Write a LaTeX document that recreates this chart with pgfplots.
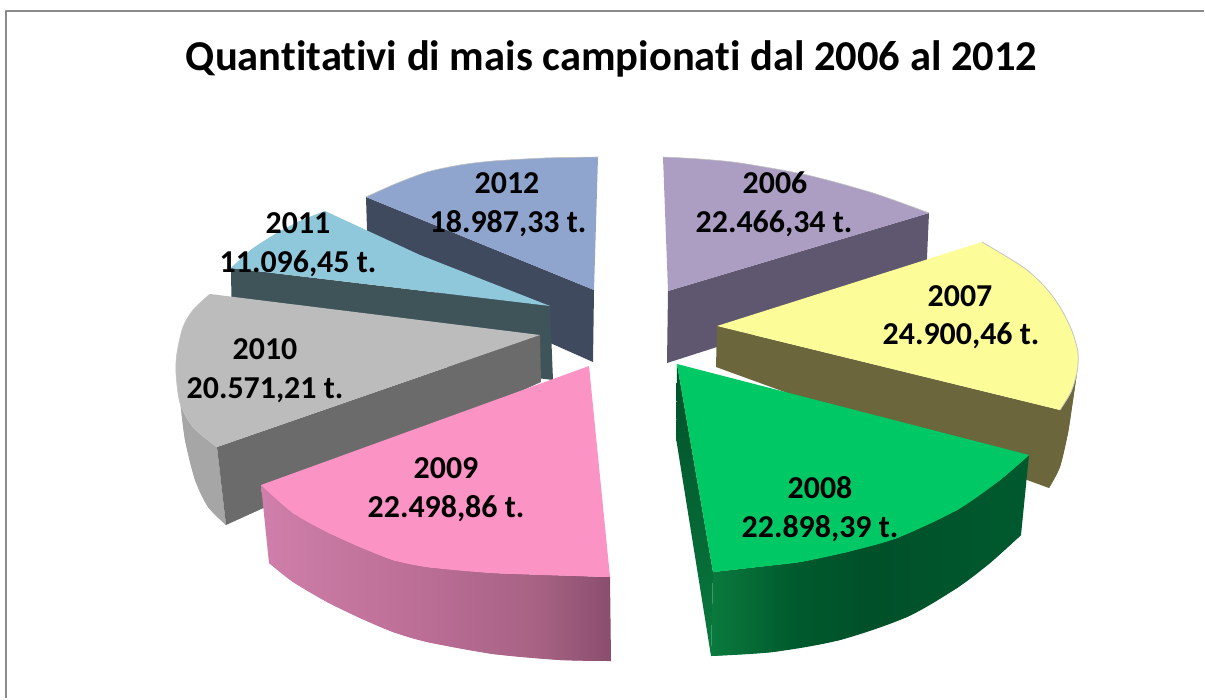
\documentclass[border=0pt]{standalone}
\usepackage{pgfplots}
\pgfplotsset{compat=1.18}
\usepackage{fontspec}
\setmainfont[Ligatures=NoCommon]{Carlito}
\definecolor{t06}{HTML}{AB9EC2}\definecolor{s06}{HTML}{5F5670}
\definecolor{t07}{HTML}{FCFC98}\definecolor{s07}{HTML}{6B663C}
\definecolor{t08}{HTML}{00C864}
\definecolor{t09}{HTML}{FB93C4}
\definecolor{t10}{HTML}{BCBCBC}\definecolor{s10}{HTML}{6B6B6B}\definecolor{o10}{HTML}{A6A6A6}
\definecolor{t11}{HTML}{8EC8DA}\definecolor{s11}{HTML}{3F5459}
\definecolor{t12}{HTML}{8FA5CD}\definecolor{s12}{HTML}{3F4A5F}
\definecolor{frame}{HTML}{8A8A8A}
\definecolor{edge}{HTML}{C4C4C4}
\definecolor{p1}{HTML}{CF7FA9}\definecolor{p2}{HTML}{B96C94}\definecolor{p3}{HTML}{A66283}\definecolor{p4}{HTML}{8A4D6E}
\definecolor{g1}{HTML}{0A7A3E}\definecolor{g2}{HTML}{005A2D}\definecolor{g3}{HTML}{00502A}\definecolor{g4}{HTML}{005A2E}
\pgfdeclarehorizontalshading{pinkside}{100bp}{color(0bp)=(p1);color(25bp)=(p1);color(50bp)=(p2);color(65bp)=(p3);color(75bp)=(p4);color(100bp)=(p4)}
\pgfdeclarehorizontalshading{greenside}{100bp}{color(0bp)=(g1);color(25bp)=(g1);color(38bp)=(g2);color(50bp)=(g3);color(75bp)=(g4);color(100bp)=(g4)}
\tikzset{lab/.style={font=\bfseries\fontsize{32}{38}\selectfont, black, anchor=base, inner sep=0pt}}
\begin{document}
\begin{tikzpicture}
\begin{axis}[
  scale only axis, width=1205bp, height=699bp,
  xmin=0, xmax=1205, ymin=0, ymax=699, y dir=reverse,
  hide axis, no markers, clip=true,
  every axis plot/.append style={line join=round},
]
% page extent
\addplot[draw=none] coordinates {(0,0) (1205,0) (1205,699) (0,699)};
% frame
\addplot[frame, line width=2bp] coordinates {(6,698) (6,11.5) (1204,11.5)};

% 2012
\addplot[fill=s12, draw=none] coordinates {(366,197) (594,290) (593,362) (368,262) (366,197)};
\addplot[fill=t12, draw=none] coordinates {(366,197) (395,184) (427,172) (460,165) (493,161) (545,158) (598,157) (594,290) (366,197)};
\addplot[smooth, fill=t12, draw=edge, line width=.6bp] coordinates {(366,197) (395,184) (427,172) (460,165) (493,161) (545,158) (598,157)};
% 2011
\addplot[fill=s11, draw=none] coordinates {(231,268) (550,306) (553,380) (232,340) (231,268)};
\addplot[fill=t11, draw=none] coordinates {(231,268) (252,249) (277,233) (300,221) (325,211) (420,255) (550,306) (231,268)};
\addplot[smooth, fill=t11, draw=none] coordinates {(231,268) (252,249) (277,233) (300,221) (325,211)};
% 2010
\addplot[fill=o10, draw=none] coordinates {(176,363) (180,400) (185,440) (195,480) (208,507) (226,525) (217,447) (193,417) (176,363)};
\addplot[smooth, fill=o10, draw=none] coordinates {(176,363) (180,400) (185,440) (195,480) (208,507) (226,525)};
\addplot[fill=s10, draw=none] coordinates {(217,447) (540,335) (541,382) (226,525) (217,447)};
\addplot[fill=t10, draw=none] coordinates {(210,294) (193,310) (183,327) (177,353) (176,373) (180,403) (193,425) (217,447) (540,335) (210,294)};
\addplot[smooth, fill=t10, draw=edge, line width=.6bp] coordinates {(210,294) (193,310) (183,327) (177,353) (176,373) (180,403) (193,427) (217,447)};
% 2006
\addplot[fill=s06, draw=none] coordinates {(668,291) (929,213) (926,280) (667,363) (668,291)};
\addplot[fill=t06, draw=none] coordinates {(663,157) (700,159) (740,163) (807,175) (873,193) (929,213) (668,291) (663,157)};
\addplot[smooth, fill=t06, draw=edge, line width=.6bp] coordinates {(663,157) (700,159) (740,163) (807,175) (873,193) (929,213)};
% 2007
\addplot[fill=s07, draw=none] coordinates {(717,326) (1060,410) (1078,353) (1077,372) (1073,400) (1068,433) (1060,467) (1049,488) (716,367) (717,326)};
\addplot[smooth, fill=s07, draw=none] coordinates {(1078,353) (1077,372) (1073,400) (1068,433) (1060,467) (1049,488)};
\addplot[fill=t07, draw=none] coordinates {(982,242) (1023,267) (1045,287) (1060,307) (1072,331) (1078,353) (1077,372) (1071,392) (1060,410) (717,326) (982,242)};
\addplot[smooth, fill=t07, draw=edge, line width=.8bp] coordinates {(982,242) (1023,267) (1045,287) (1060,307) (1072,331) (1078,353) (1077,372) (1071,392) (1060,410)};
% 2008
\addplot[top color=g3, bottom color=g1, draw=none] coordinates {(677,364) (713,572) (711,656) (676,438) (677,364)};
\addplot[smooth, shading=greenside, draw=none] coordinates {(1021,535) (990,563) (957,588) (907,617) (840,640) (773,652) (711,656)};
\addplot[shading=greenside, draw=none] coordinates {(713,572) (757,567) (800,562) (847,552) (897,538) (957,510) (1000,480) (1029,455) (1021,535) (990,563) (957,588) (907,617) (840,640) (773,652) (711,656) (713,572)};
\addplot[fill=t08, draw=none] coordinates {(677,364) (1029,455) (1000,480) (957,510) (897,538) (847,552) (800,562) (757,567) (713,572) (677,364)};
\addplot[smooth, fill=t08, draw=none] coordinates {(1029,455) (1000,480) (957,510) (897,538) (847,552) (800,562) (757,567) (713,572)};
% 2009
\addplot[smooth, shading=pinkside, draw=none] coordinates {(269,563) (293,582) (327,602) (360,618) (393,632) (427,642) (493,654) (560,660) (611,661)};
\addplot[shading=pinkside, draw=none] coordinates {(261,485) (293,513) (327,532) (360,547) (393,560) (427,567) (493,573) (610,577) (611,661) (560,660) (493,654) (427,642) (393,632) (360,618) (327,602) (293,582) (269,563) (261,485)};
\addplot[fill=t09, draw=none] coordinates {(589,366) (610,577) (493,573) (427,567) (393,560) (360,547) (327,532) (293,513) (261,485) (589,366)};
\addplot[smooth, fill=t09, draw=none] coordinates {(261,485) (293,513) (327,532) (360,547) (393,560) (427,567) (493,573) (610,577)};

% labels
\node[font=\bfseries\fontsize{42.7}{50}\selectfont, black, anchor=base, inner sep=0pt] at (axis cs:611.5,71) {Quantitativi di mais campionati dal 2006 al 2012};
\node[lab] at (axis cs:507,193) {2012};
\node[lab] at (axis cs:508,232.5) {18.987,33 t.};
\node[lab] at (axis cs:298,233) {2011};
\node[lab] at (axis cs:298,272) {11.096,45 t.};
\node[lab] at (axis cs:265,359) {2010};
\node[lab] at (axis cs:265,398) {20.571,21 t.};
\node[lab] at (axis cs:446,478) {2009};
\node[lab] at (axis cs:446,517) {22.498,86 t.};
\node[lab] at (axis cs:820,498) {2008};
\node[lab] at (axis cs:820,537) {22.898,39 t.};
\node[lab] at (axis cs:960,306) {2007};
\node[lab] at (axis cs:961,344) {24.900,46 t.};
\node[lab] at (axis cs:775,193) {2006};
\node[lab] at (axis cs:774,232) {22.466,34 t.};
\end{axis}
\end{tikzpicture}
\end{document}
